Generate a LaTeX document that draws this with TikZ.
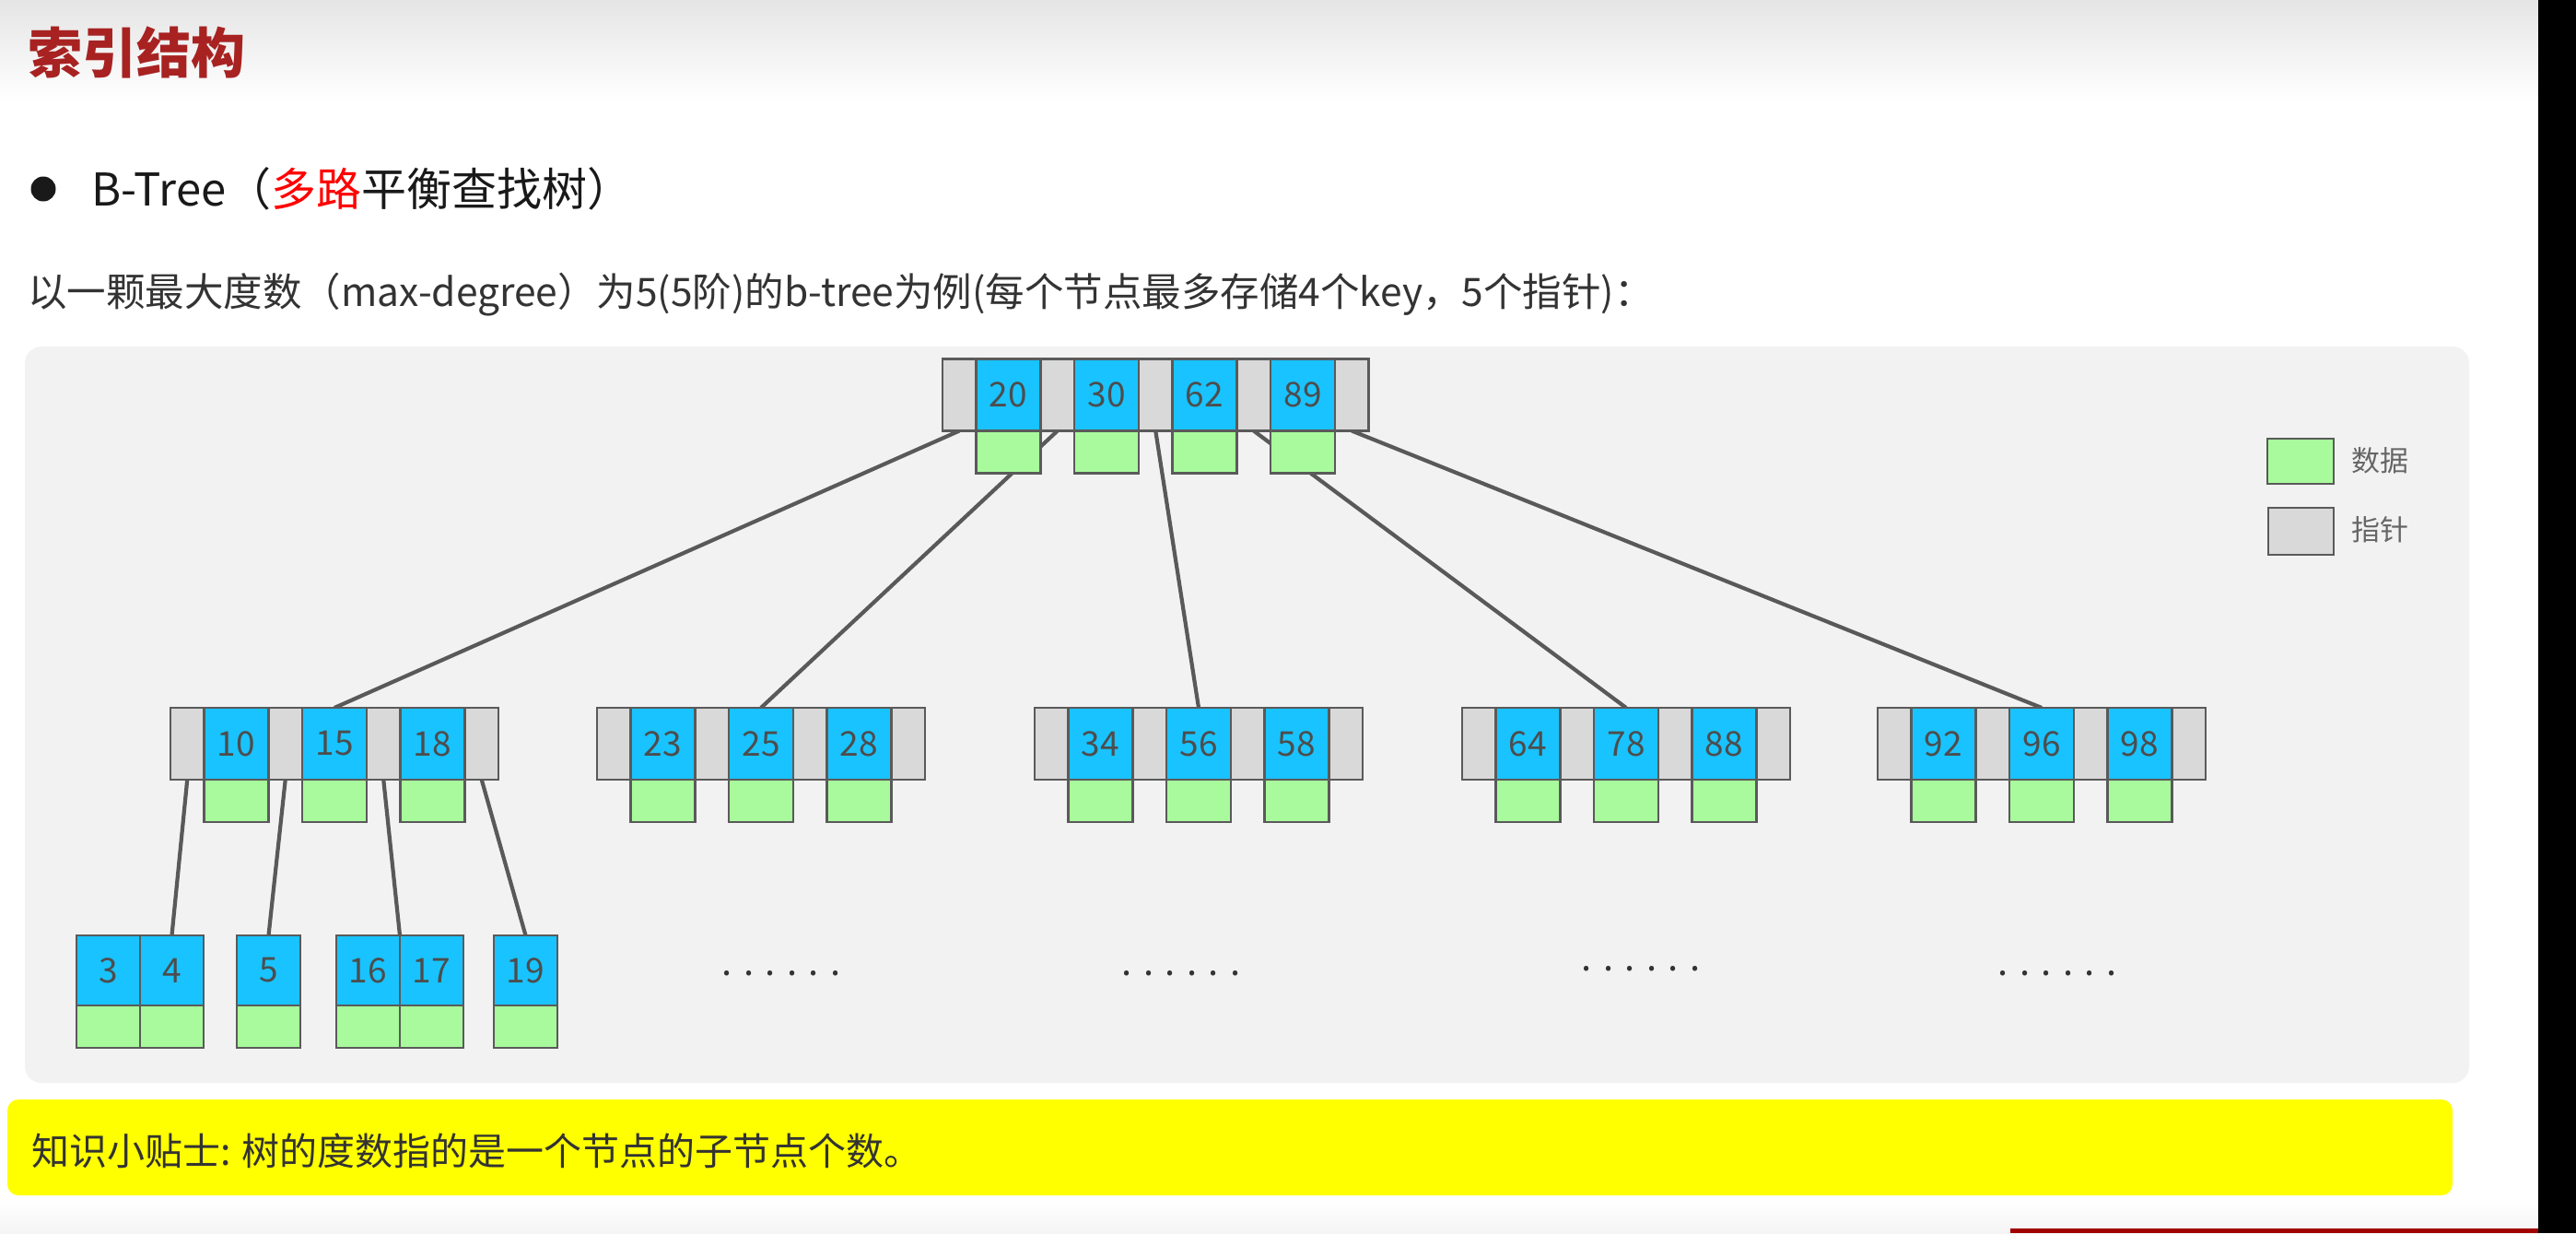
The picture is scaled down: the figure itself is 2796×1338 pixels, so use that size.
\documentclass[tikz,border=0pt]{standalone}
\usepackage{fontspec}
\setmainfont{Noto Sans CJK SC}
\pgfdeclarelayer{back}
\pgfdeclarelayer{edges}
\pgfsetlayers{back,edges,main}

\definecolor{keyblue}{HTML}{19C3FF}
\definecolor{datagreen}{HTML}{A8FA9C}
\definecolor{ptrgray}{HTML}{D9D9D9}
\definecolor{boxline}{HTML}{5A5A5A}
\definecolor{linkgray}{HTML}{595959}
\definecolor{keytext}{HTML}{4D4D4D}
\definecolor{panelgray}{HTML}{F2F2F2}
\definecolor{titlered}{HTML}{A82222}
\definecolor{textdark}{HTML}{333333}
\definecolor{legendtext}{HTML}{666666}
\definecolor{headgray}{HTML}{E5E5E5}
\definecolor{tipyellow}{HTML}{FFFF00}
\definecolor{barred}{HTML}{A00000}

\tikzset{
  cell/.style={draw=boxline, line width=2.5, inner sep=0, outer sep=0, anchor=north west},
  ptrcell/.style={cell, fill=ptrgray, minimum width=36.5, minimum height=78},
  keycell/.style={cell, fill=keyblue, minimum width=70, minimum height=78,
    font=\fontsize{37}{40}\selectfont, text=keytext},
  datacell/.style={cell, fill=datagreen, minimum width=70, minimum height=46},
  leafkey/.style={keycell, minimum width=69, minimum height=76},
  leafdata/.style={datacell, minimum width=69, minimum height=46},
  link/.style={draw=linkgray, line width=4.2},
  label/.style={inner sep=0, anchor=base west},
  dots/.style={inner sep=0, anchor=base, text=textdark,
    font=\fontsize{40}{44}\selectfont\addfontfeature{LetterSpace=31}},
}

% inner B-tree node: pointer | key | pointer | ... | key | pointer, data under each key
\newcommand{\innernode}[4]{%
  \node[ptrcell] (#1-p0) at (#2,#3) {};
  \foreach \kv [count=\i] in {#4} {
    \pgfmathsetmacro\kx{#2+36.5+(\i-1)*106.5}
    \node[keycell] (#1-k\i) at (\kx,#3) {\kv};
    \node[datacell] (#1-d\i) at (\kx,#3+78) {};
    \node[ptrcell] (#1-p\i) at (\kx+70,#3) {};
  }%
}
% leaf node: keys side by side, data under each key
\newcommand{\leafnode}[4]{%
  \foreach \kv [count=\i] in {#4} {
    \pgfmathsetmacro\kx{#2+(\i-1)*69}
    \node[leafkey] (#1-k\i) at (\kx,#3) {\kv};
    \node[leafdata] (#1-d\i) at (\kx,#3+76) {};
  }%
}

\begin{document}
\begin{tikzpicture}[x=1pt,y=-1pt]
\useasboundingbox (0,0) rectangle (2796,1338);

\begin{pgfonlayer}{back}
  \fill[white] (0,0) rectangle (2796,1338);
  \shade[top color=headgray, bottom color=white] (0,0) rectangle (2755,110);
  \shade[top color=white, bottom color=black!4] (0,1300) rectangle (2755,1338);
  \fill[black] (2755,0) rectangle (2796,1338);
  \fill[barred] (2182,1333) rectangle (2755,1338);
  \fill[panelgray, rounded corners=18] (27,376) rectangle (2680,1175);
  \fill[tipyellow, rounded corners=12] (8,1193) rectangle (2662,1297);
\end{pgfonlayer}

% headings
\node[label, font=\bfseries\fontsize{59}{62}\selectfont, text=titlered] (title) at (30,80) {索引结构};
\node[circle, fill=black!90, inner sep=0, minimum size=27] (bullet) at (47,205) {};
\node[label, font=\fontsize{49}{53}\selectfont, text=black!90] (heading) at (99,223)
  {B-Tree（\textcolor{red}{多路}平衡查找树）};
\node[label, font=\fontsize{42.5}{46}\selectfont, text=textdark] (intro) at (30,332)
  {以一颗最大度数（max-degree）为5(5阶)的b-tree为例(每个节点最多存储4个key，5个指针)：};

% root
\innernode{R}{1023}{389.5}{20,30,62,89}
% second level
\innernode{A}{185}{768}{10,15,18}
\innernode{B}{648}{768}{23,25,28}
\innernode{C}{1123}{768}{34,56,58}
\innernode{D}{1587}{768}{64,78,88}
\innernode{E}{2038}{768}{92,96,98}
% leaves under the first child
\leafnode{a}{83}{1015}{3,4}
\leafnode{b}{257}{1015}{5}
\leafnode{c}{365}{1015}{16,17}
\leafnode{d}{536}{1015}{19}

% elided leaves
\node[dots] (more1) at (848,1058) {......};
\node[dots] (more2) at (1282,1058) {......};
\node[dots] (more3) at (1781,1053) {......};
\node[dots] (more4) at (2233,1058) {......};

% pointers to children
\begin{pgfonlayer}{edges}
  \draw[link] (R-p0.south) -- (A-k2.north);
  \draw[link] (R-p1.south) -- (B-k2.north);
  \draw[link] (R-p2.south) -- (C-k2.north);
  \draw[link] (R-p3.south) -- (D-k2.north);
  \draw[link] (R-p4.south) -- (E-k2.north);
  \draw[link] (A-p0.south) -- (a-k2.north);
  \draw[link] (A-p1.south) -- (b-k1.north);
  \draw[link] (A-p2.south) -- (c-k1.north east);
  \draw[link] (A-p3.south) -- (d-k1.north);
\end{pgfonlayer}

% legend
\node[datacell, minimum width=72, minimum height=49] (legdata) at (2461,476) {};
\node[ptrcell, minimum width=71, minimum height=51] (legptr) at (2462,551) {};
\node[label, font=\fontsize{31}{34}\selectfont, text=legendtext] (legdatatext) at (2552,511) {数据};
\node[label, font=\fontsize{31}{34}\selectfont, text=legendtext] (legptrtext) at (2552,586) {指针};

% tip
\node[label, font=\fontsize{41}{45}\selectfont, text=textdark] (tip) at (34,1264)
  {知识小贴士: 树的度数指的是一个节点的子节点个数。};
\end{tikzpicture}
\end{document}
